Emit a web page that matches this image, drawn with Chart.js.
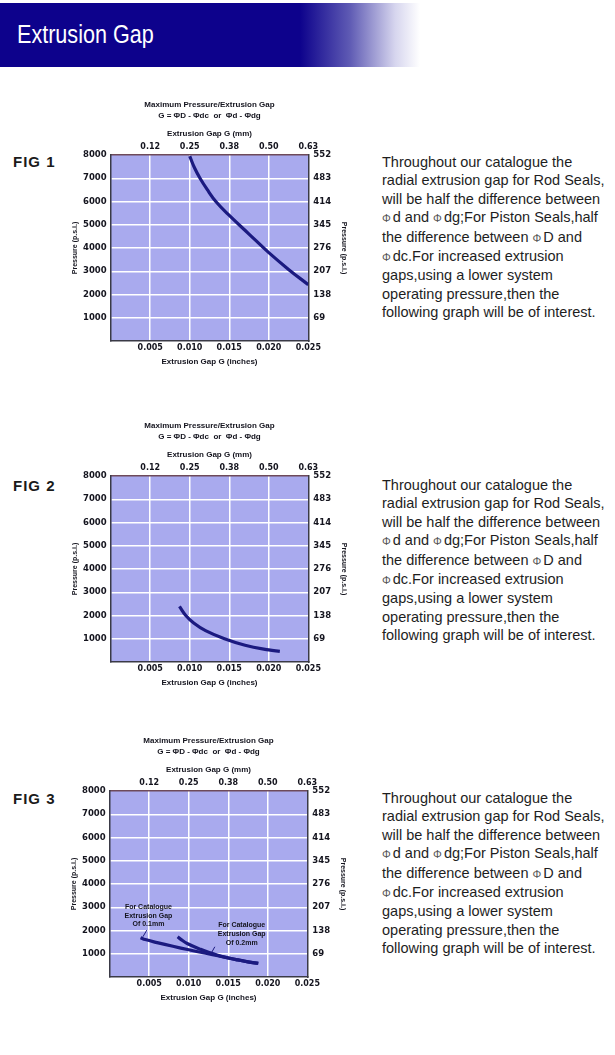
<!DOCTYPE html>
<html>
<head>
<meta charset="utf-8">
<title>Extrusion Gap</title>
<script src="https://cdn.jsdelivr.net/npm/chart.js@4.4.1/dist/chart.umd.min.js"></script>
<style>
  html, body { margin: 0; padding: 0; background: #fff; }
  body { position: relative; width: 615px; height: 1055px; overflow: hidden; font-family: 'Liberation Sans', Arial, sans-serif; }
  .banner { position: absolute; left: 0; top: 3px; width: 615px; height: 64px;
    background: linear-gradient(to right, #0d028c 0px, #0d028c 300px, #5f5bb4 350px, #d6d5ee 395px, #fff 420px); }
  .banner h1 { position: absolute; left: 17px; top: 18px; margin: 0; font-size: 26px; line-height: 26px; font-weight: normal;
    color: #fff; transform: scaleX(0.83); transform-origin: left center; white-space: nowrap; }
  .fig { position: absolute; left: 13px; font-size: 15px; line-height: 15px; font-weight: bold; letter-spacing: 1px; color: #1b1b1b; }
  .plot { position: absolute; }
  .note { position: absolute; left: 382px; font-size: 14.5px; line-height: 18.4px; color: #1e1e1e; white-space: nowrap; }
  .phi { font-size: 11px; color: #555; margin-right: 2px; }
</style>
</head>
<body>

<div class="banner"><h1>Extrusion Gap</h1></div>

<div class="fig" style="top:154px">FIG 1</div>
<div class="fig" style="top:478px">FIG 2</div>
<div class="fig" style="top:791px">FIG 3</div>

<canvas id="fig1" class="plot" width="330" height="280" style="left:40px; top:95px"></canvas>
<canvas id="fig2" class="plot" width="330" height="280" style="left:40px; top:416px"></canvas>
<canvas id="fig3" class="plot" width="330" height="280" style="left:39px; top:731px"></canvas>

<div class="note" style="top:153px">
Throughout our catalogue the<br>
radial extrusion gap for Rod Seals,<br>
will be half the difference between<br>
<span class="phi">Φ</span>d and <span class="phi">Φ</span>dg;For Piston Seals,half<br>
the difference between <span class="phi">Φ</span>D and<br>
<span class="phi">Φ</span>dc.For increased extrusion<br>
gaps,using a lower system<br>
operating pressure,then the<br>
following graph will be of interest.
</div>
<div class="note" style="top:476px">
Throughout our catalogue the<br>
radial extrusion gap for Rod Seals,<br>
will be half the difference between<br>
<span class="phi">Φ</span>d and <span class="phi">Φ</span>dg;For Piston Seals,half<br>
the difference between <span class="phi">Φ</span>D and<br>
<span class="phi">Φ</span>dc.For increased extrusion<br>
gaps,using a lower system<br>
operating pressure,then the<br>
following graph will be of interest.
</div>
<div class="note" style="top:789px">
Throughout our catalogue the<br>
radial extrusion gap for Rod Seals,<br>
will be half the difference between<br>
<span class="phi">Φ</span>d and <span class="phi">Φ</span>dg;For Piston Seals,half<br>
the difference between <span class="phi">Φ</span>D and<br>
<span class="phi">Φ</span>dc.For increased extrusion<br>
gaps,using a lower system<br>
operating pressure,then the<br>
following graph will be of interest.
</div>

<script>
// --- tick labels ---
const gapTicksIn = [0.005, 0.010, 0.015, 0.020, 0.025];
const gapTicksMm = ['0.12', '0.25', '0.38', '0.50', '0.63'];
const psiTicks = [1000, 2000, 3000, 4000, 5000, 6000, 7000, 8000];
const barTicks = ['69', '138', '207', '276', '345', '414', '483', '552'];

// --- curves (gap in inches, pressure in p.s.i.) ---
const fig1Gap = [0.0100, 0.0106, 0.0113, 0.0122, 0.0133, 0.0150, 0.0175, 0.0200, 0.0225, 0.0250];
const fig1Psi = [7950, 7450, 7000, 6520, 6000, 5400, 4600, 3800, 3080, 2420];

const fig2Gap = [0.0087, 0.0095, 0.0105, 0.0120, 0.0144, 0.0170, 0.0200, 0.0214];
const fig2Psi = [2390, 2000, 1680, 1350, 1000, 720, 520, 460];

const fig3GapA = [0.0039, 0.0045, 0.0060, 0.0080, 0.0100, 0.0120, 0.0140, 0.0160, 0.0175, 0.0188];
const fig3PsiA = [1690, 1610, 1480, 1320, 1170, 1030, 890, 750, 650, 590];
const fig3GapB = [0.0086, 0.0090, 0.0098, 0.0115, 0.0130, 0.0140, 0.0160, 0.0175, 0.0188];
const fig3PsiB = [1730, 1620, 1440, 1190, 1010, 900, 750, 650, 590];

const noteA = ['For Catalogue', 'Extrusion Gap', 'Of 0.1mm'];
const noteB = ['For Catalogue', 'Extrusion Gap', 'Of 0.2mm'];

const FONT = "'Liberation Sans', Arial, sans-serif";
const TICK_FONT = "'DejaVu Sans', 'Liberation Sans', sans-serif";
const INK = '#14141e';
const PLOT_BG = '#a9aaee';
const EDGE = '#3a3a46';
const CURVE = '#1b1a80';

const GAP_MAX = 0.025;
const PSI_MAX = 8000;

function pts(xs, ys) {
  return xs.map((x, i) => ({ x, y: ys[i] }));
}

function curve(xs, ys) {
  return {
    data: pts(xs, ys),
    borderColor: CURVE,
    borderWidth: 3.2,
    pointRadius: 0,
    tension: 0.4,
    fill: false
  };
}

function bold(size, family) {
  return { family: family || FONT, size, weight: 'bold', lineHeight: 1.2 };
}

// light blue plot face
const plotFill = {
  id: 'plotFill',
  beforeDraw(chart) {
    const { ctx, chartArea: a } = chart;
    ctx.save();
    ctx.fillStyle = PLOT_BG;
    ctx.fillRect(a.left, a.top, a.width, a.height);
    ctx.restore();
  }
};

// small labels with leader lines (fig 3)
const callouts = {
  id: 'callouts',
  afterDatasetsDraw(chart, args, opts) {
    if (!opts.items) return;
    const { ctx, scales: { x, y } } = chart;
    ctx.save();
    opts.items.forEach(n => {
      ctx.font = 'bold 7px ' + FONT;
      ctx.fillStyle = INK;
      ctx.textAlign = 'center';
      ctx.textBaseline = 'middle';
      const cx = x.getPixelForValue(n.x);
      const cy = y.getPixelForValue(n.y);
      n.lines.forEach((t, i) => ctx.fillText(t, cx, cy + i * 8.8));
      ctx.strokeStyle = CURVE;
      ctx.lineWidth = 1;
      ctx.beginPath();
      ctx.moveTo(x.getPixelForValue(n.from[0]), y.getPixelForValue(n.from[1]));
      ctx.lineTo(x.getPixelForValue(n.to[0]), y.getPixelForValue(n.to[1]));
      ctx.stroke();
    });
    ctx.restore();
  }
};

function gridColor(max) {
  return ctx => (ctx.tick && (ctx.tick.value === 0 || Math.abs(ctx.tick.value - max) < 1e-9)) ? 'rgba(0,0,0,0)' : '#ffffff';
}

function buildChart(id, datasets, notes) {
  return new Chart(document.getElementById(id), {
    type: 'line',
    data: { datasets },
    options: {
      responsive: false,
      devicePixelRatio: 1,
      animation: false,
      layout: { padding: { left: 0, right: 0, top: 0, bottom: 8 } },
      plugins: {
        legend: { display: false },
        tooltip: { enabled: false },
        title: {
          display: true,
          fullSize: false,
          text: 'Maximum Pressure/Extrusion Gap',
          color: INK,
          font: bold(8),
          padding: { top: 4.5, bottom: 1 }
        },
        subtitle: {
          display: true,
          fullSize: false,
          text: 'G = ΦD - Φdc  or  Φd - Φdg',
          color: INK,
          font: bold(8),
          padding: { top: 1, bottom: 2 }
        },
        callouts: { items: notes }
      },
      scales: {
        x: {
          type: 'linear',
          position: 'bottom',
          min: 0,
          max: GAP_MAX,
          afterFit: s => { s.height = 26; },
          grid: { color: gridColor(GAP_MAX), lineWidth: 1.5, drawTicks: false },
          border: { display: true, color: EDGE, width: 1.5 },
          ticks: {
            stepSize: 0.005,
            padding: 2.5,
            maxRotation: 0,
            autoSkip: false,
            color: INK,
            font: { family: TICK_FONT, size: 8, weight: 'bold', lineHeight: 1 },
            callback: v => {
              const i = Math.round(v / 0.005);
              return i === 0 ? '' : gapTicksIn[i - 1].toFixed(3);
            }
          },
          title: {
            display: true,
            text: 'Extrusion Gap G (inches)',
            color: INK,
            font: bold(8),
            padding: { top: 0, bottom: 0.5 }
          }
        },
        xTop: {
          type: 'linear',
          position: 'top',
          min: 0,
          max: GAP_MAX,
          afterFit: s => { s.height = 32.3; },
          grid: { display: false, drawTicks: false },
          border: { display: true, color: '#6e4a5a', width: 1.5 },
          ticks: {
            stepSize: 0.005,
            padding: 3,
            maxRotation: 0,
            autoSkip: false,
            color: INK,
            font: bold(8, TICK_FONT),
            callback: v => {
              const i = Math.round(v / 0.005);
              return i === 0 ? '' : gapTicksMm[i - 1];
            }
          },
          title: {
            display: true,
            text: 'Extrusion Gap G (mm)',
            color: INK,
            font: bold(8),
            padding: { top: 6.5, bottom: 0 }
          }
        },
        y: {
          type: 'linear',
          position: 'left',
          min: 0,
          max: PSI_MAX,
          afterFit: s => { s.width = 70.7; },
          grid: { color: gridColor(PSI_MAX), lineWidth: 1.5, drawTicks: false },
          border: { display: true, color: EDGE, width: 1.5 },
          ticks: {
            stepSize: 1000,
            padding: 4,
            color: INK,
            font: bold(8.5, TICK_FONT),
            callback: v => {
              const i = Math.round(v / 1000);
              return i === 0 ? '' : String(psiTicks[i - 1]);
            }
          },
          title: {
            display: true,
            text: 'Pressure (p.s.i.)',
            color: INK,
            font: bold(7),
            padding: { top: 30.5, bottom: 0 }
          }
        },
        yRight: {
          type: 'linear',
          position: 'right',
          min: 0,
          max: PSI_MAX,
          afterFit: s => { s.width = 61.7; },
          grid: { display: false, drawTicks: false },
          border: { display: true, color: EDGE, width: 1.5 },
          ticks: {
            stepSize: 1000,
            padding: 5,
            color: INK,
            font: bold(8.5, TICK_FONT),
            callback: v => {
              const i = Math.round(v / 1000);
              return i === 0 ? '' : barTicks[i - 1];
            }
          },
          title: {
            display: true,
            text: 'Pressure (p.s.i.)',
            color: INK,
            font: bold(7),
            padding: { top: 22, bottom: 0 }
          }
        }
      }
    },
    plugins: [plotFill, callouts]
  });
}

buildChart('fig1', [curve(fig1Gap, fig1Psi)]);
buildChart('fig2', [curve(fig2Gap, fig2Psi)]);
buildChart('fig3', [curve(fig3GapA, fig3PsiA), curve(fig3GapB, fig3PsiB)], [
  { x: 0.0049, y: 3017, lines: noteA, from: [0.0047, 2017], to: [0.0042, 1730] },
  { x: 0.0167, y: 2232, lines: noteB, from: [0.0133, 1300], to: [0.0129, 1056] }
]);
</script>
</body>
</html>
